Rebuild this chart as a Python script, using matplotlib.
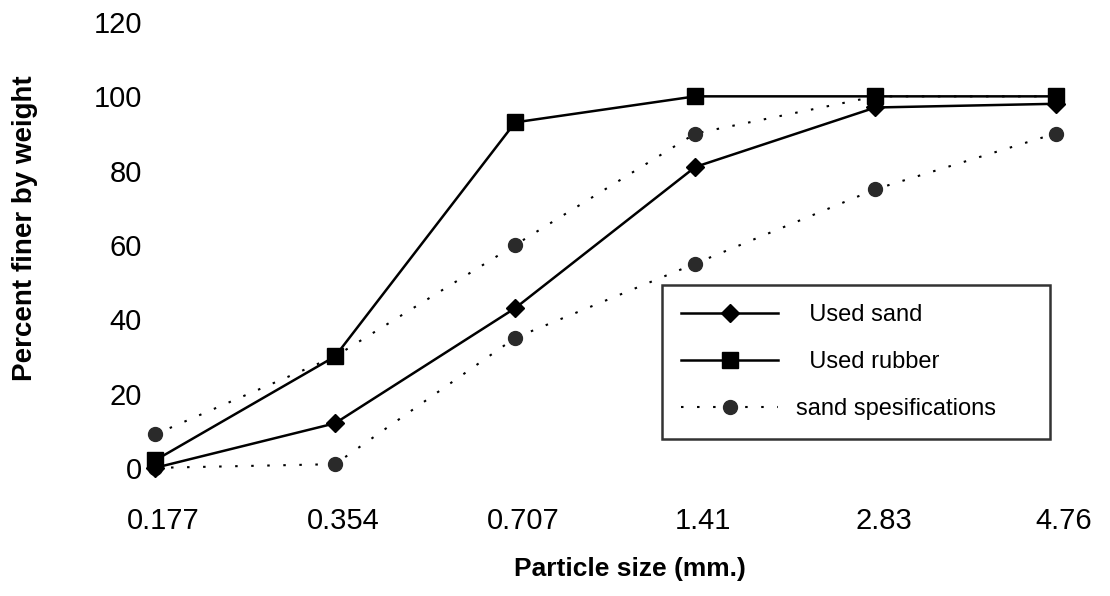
import matplotlib.pyplot as plt
import matplotlib.transforms as mtransforms
import numpy as np

plt.rcParams['font.family'] = ['Liberation Sans', 'DejaVu Sans']

# sieve sizes (mm) shown as evenly spaced categories
sizes = ['0.177', '0.354', '0.707', '1.41', '2.83', '4.76']

# percent finer by weight
used_sand = [0, 12, 43, 81, 97, 98]
used_rubber = [2, 30, 93, 100, 100, 100]
spec_upper = [9, 30, 60, 90, 100, 100]
spec_lower = [0, 1, 35, 55, 75, 90]

x = np.arange(len(sizes))

fig = plt.figure(figsize=(11.1, 5.96), dpi=100)
ax = fig.add_axes([0.1315, 0.215, 0.860, 0.748])

dots = (0, (1.2, 6.5))
spec_style = dict(color='black', linestyle=dots, linewidth=1.5, marker='o',
                  markersize=10, markerfacecolor='#2a2a2a',
                  markeredgecolor='#2a2a2a')

# spec envelope: dotted lines with dark round markers
ax.plot(x, spec_upper, clip_on=False, zorder=2, **spec_style)
ax.plot(x, spec_lower, clip_on=False, zorder=2, **spec_style)

l_sand, = ax.plot(x, used_sand, color='black', linewidth=1.8, marker='D',
                  markersize=9, clip_on=False, zorder=3)
l_rub, = ax.plot(x, used_rubber, color='black', linewidth=1.8, marker='s',
                 markersize=11, clip_on=False, zorder=3)

# legend proxy for the spec lines
l_spec, = ax.plot([], [], **spec_style)

leg = ax.legend([l_sand, l_rub, l_spec],
                ['  Used sand', '  Used rubber', 'sand spesifications'],
                loc='upper left', bbox_to_anchor=(0.541, 0.41, 0.406, 0.0),
                mode='expand', fontsize=17, handlelength=4.1, frameon=True,
                fancybox=False, edgecolor='black', borderpad=0.8,
                labelspacing=1.07, handletextpad=0.75, borderaxespad=0)
leg.get_frame().set_linewidth(1.8)

ax.set_xlim(-0.05, 5.25)
ax.set_ylim(0, 120)
ax.set_xticks(x)
ax.set_xticklabels(sizes)
ax.set_yticks(np.arange(0, 121, 20))

for s in ax.spines.values():
    s.set_visible(False)
ax.tick_params(length=0, labelsize=21)
ax.tick_params(axis='y', pad=3)
ax.tick_params(axis='x', pad=28)

# tick labels sit a little right of their points in the original
shift = mtransforms.ScaledTranslation(8 / 100, 0, fig.dpi_scale_trans)
for lab in ax.get_xticklabels():
    lab.set_transform(lab.get_transform() + shift)

ax.set_xlabel('Particle size (mm.)', fontsize=19, fontweight='bold')
ax.set_ylabel('Percent finer by weight', fontsize=20, fontweight='bold')
ax.xaxis.set_label_coords(0.507, -0.201)
ax.yaxis.set_label_coords(-0.113, 0.538)

fig.savefig('out.png', dpi=100)
